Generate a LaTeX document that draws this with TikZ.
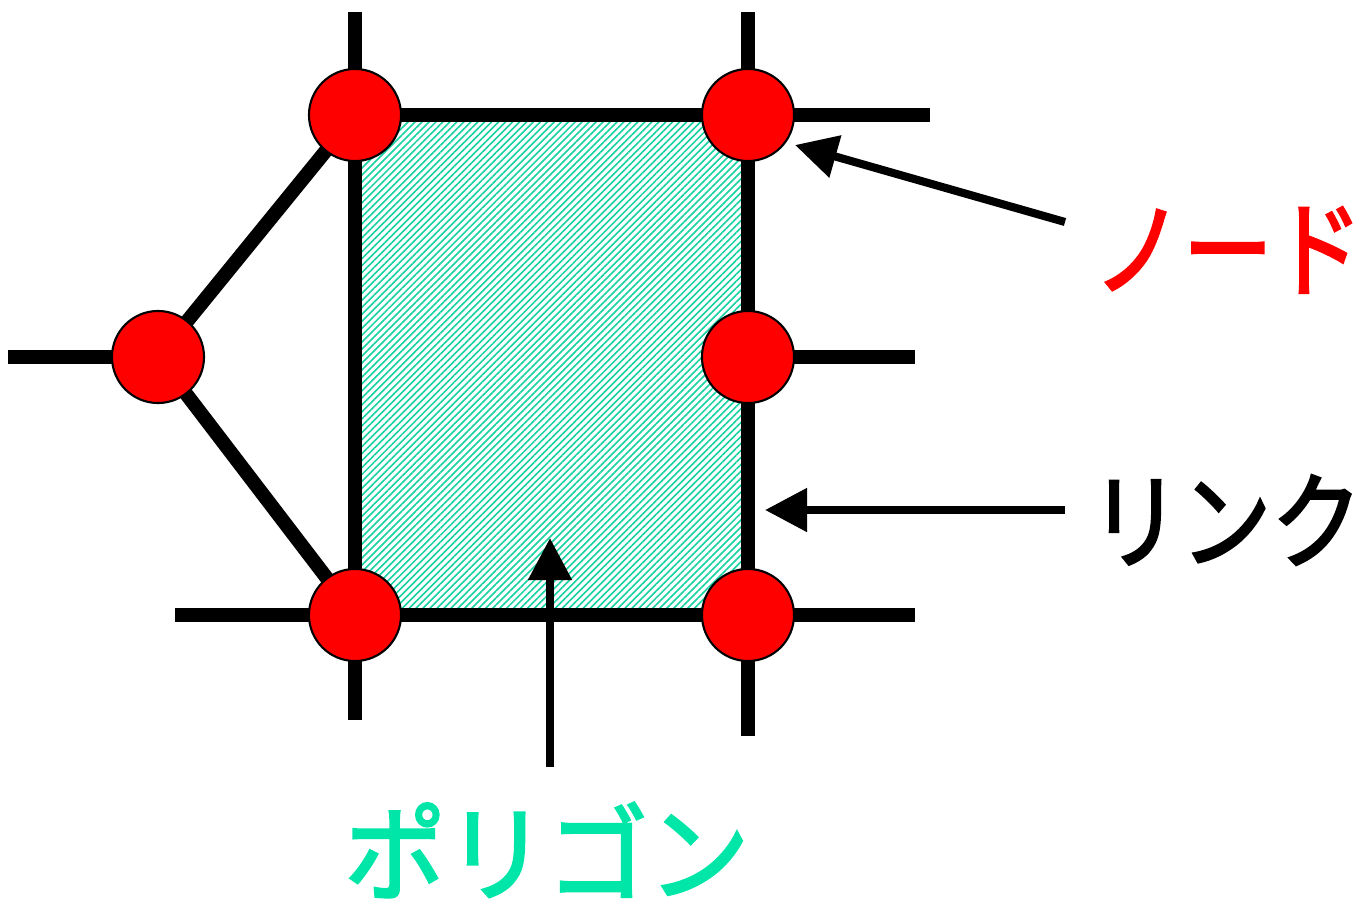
\documentclass[tikz,border=0pt]{standalone}
\usepackage{fontspec}
\newfontfamily\jpfont[FakeBold=2.5]{Noto Sans CJK JP}
\usetikzlibrary{arrows.meta, patterns.meta}
\definecolor{polygreen}{RGB}{0,230,168}
\definecolor{hatchgreen}{RGB}{20,210,160}

\begin{document}
\begin{tikzpicture}[x=0.01cm, y=-0.01cm,
    link/.style={line width=4pt, black},
    node_dot/.style={circle, fill=red, draw=black, line width=0.6pt,
      minimum size=0.92cm, inner sep=0pt},
    pointer/.style={line width=2.3pt, -{Triangle[length=0.42cm, width=0.42cm]}},
    label_jp/.style={font=\jpfont\fontsize{30}{30}\selectfont, inner sep=0pt}
  ]
  \useasboundingbox (0,0) rectangle (1360,906);

  % Knotenpositionen
  \coordinate (tl) at (355,115);
  \coordinate (tr) at (748,115);
  \coordinate (mr) at (748,357);
  \coordinate (bl) at (355,615);
  \coordinate (br) at (748,615);
  \coordinate (ml) at (158,357);

  % Polygon (schraffiert)
  \fill[pattern={Lines[angle=45, distance=1.4pt, line width=0.45pt]},
        pattern color=hatchgreen] (tl) rectangle (br);

  % Links
  \draw[link] (355,12) -- (tl) -- (bl) -- (355,720);
  \draw[link] (748,12) -- (tr) -- (mr) -- (br) -- (748,736);
  \draw[link] (tl) -- (930,115);
  \draw[link] (mr) -- (915,357);
  \draw[link] (175,615) -- (bl) -- (br) -- (915,615);
  \draw[link] (8,357) -- (ml);
  \draw[link] (tl) -- (ml) -- (bl);

  % Knoten
  \foreach \p in {tl, tr, mr, bl, br, ml}
    \node[node_dot] (n\p) at (\p) {};

  % Beschriftungen
  \node[label_jp, text=red] (node_txt) at (1228,250) {\scalebox{0.85}[1]{ノード}};
  \node[label_jp] (link_txt) at (1226,520) {\scalebox{0.86}[1]{リンク}};
  \node[label_jp, text=polygreen] (poly_txt) at (547,850) {\scalebox{0.96}[1]{ポリゴン}};

  % Pfeile
  \coordinate (a1) at (1065,222);
  \coordinate (a2) at (1065,510);
  \coordinate (a3) at (550,767);
  \draw[pointer] (a1) -- (795,145);
  \draw[pointer] (a2) -- (765,510);
  \draw[pointer] (a3) -- (550,538);

\end{tikzpicture}
\end{document}
